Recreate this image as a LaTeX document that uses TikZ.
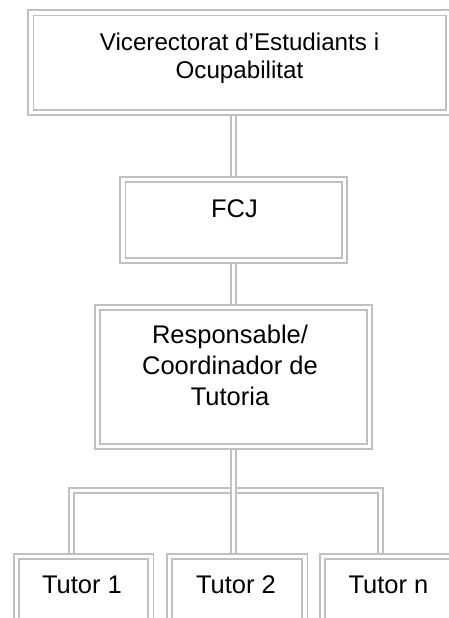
\documentclass[tikz,border=0pt]{standalone}
\usepackage{fontspec}
\setmainfont{Liberation Sans}
\usetikzlibrary{backgrounds}
\definecolor{lg}{RGB}{192,192,192}
\begin{document}
\begin{tikzpicture}[x=1pt,y=-1pt,
  dbox/.style={draw=lg, line width=1.8pt, double=white, double distance=3.6pt, inner sep=0pt, rectangle},
  conn/.style={draw=lg, line width=1.8pt, double=white, double distance=3.2pt},
  txt/.style={inner sep=0pt, align=center, font=\fontsize{25.5}{31}\selectfont, anchor=base}]
\useasboundingbox (0,0) rectangle (449,618);
% boxes (midline geometry)
\node[dbox, minimum width=418.2pt, minimum height=99.5pt] (top) at (239.9,62.55) {};
\node[dbox, minimum width=221.5pt, minimum height=81pt] (fcj) at (233.55,219.8) {};
\node[dbox, minimum width=272pt, minimum height=139pt] (resp) at (233.3,376.8) {};
\node[dbox, minimum width=134.5pt, minimum height=80pt] (t1) at (83.55,596.3) {};
\node[dbox, minimum width=135.5pt, minimum height=80pt] (t2) at (237.05,596.3) {};
\node[dbox, minimum width=135.5pt, minimum height=80pt] (tn) at (390.05,596.3) {};
% texts (base anchor = baseline of the last line)
\node[txt, font=\fontsize{24.2}{28}\selectfont] (toptxt) at (239.5,78) {Vicerectorat d’Estudiants i\\Ocupabilitat};
\node[txt] (fcjtxt) at (234.5,217) {FCJ};
\node[txt] (resptxt) at (230,405) {Responsable/\\Coordinador de\\Tutoria};
\node[txt] (t1txt) at (82,593) {Tutor 1};
\node[txt] (t2txt) at (236,593) {Tutor 2};
\node[txt] (tntxt) at (388.5,593) {Tutor n};
% connectors
\coordinate (busL) at (71.8,490.3);
\coordinate (busR) at (380.8,490.3);
\begin{scope}[on background layer]
\draw[conn] (fcj.north |- top.south) -- (fcj.north);
\draw[conn] (fcj.south -| resp.north) -- (resp.north);
\draw[conn] (busL |- t1.north) -- (busL) -- (busR) -- (busR |- tn.north);
\draw[conn] (resp.south) -- (resp.south |- t2.north);
\end{scope}
\end{tikzpicture}
\end{document}
